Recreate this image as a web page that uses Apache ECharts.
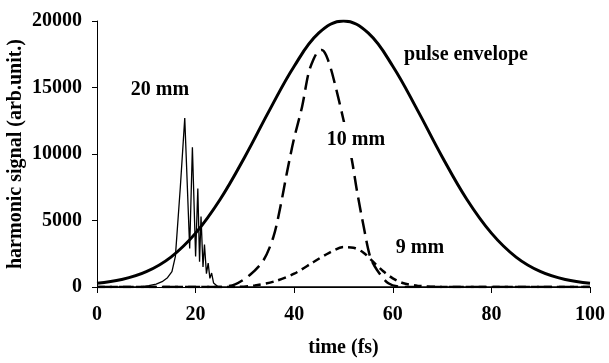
<!DOCTYPE html>
<html>
<head>
<meta charset="utf-8">
<script src="https://cdn.jsdelivr.net/npm/echarts@6/dist/echarts.min.js"></script>
<style>
html,body{margin:0;padding:0;background:#fff;}
#chart{width:609px;height:363px;}
</style>
</head>
<body>
<div id="chart"></div>
<script>
// time axis ticks
var xTicks = [0, 20, 40, 60, 80, 100];
var yTicks = [0, 5000, 10000, 15000, 20000];

// pulse envelope
var envT = [0, 5, 10, 15, 20, 25, 30, 35, 40, 45, 50, 55, 60, 65, 70, 75, 80, 85, 90, 95, 100];
var envV = [280, 560, 1150, 2250, 4050, 6600, 9800, 13300, 16600, 19100, 20000, 19100, 16600, 13300, 9800, 6600, 4050, 2250, 1150, 560, 280];

// 20 mm
var mm20T = [0, 9, 10.5, 12, 13.2, 14.3, 15.2, 15.9, 16.9, 17.8, 18.8, 19.35, 20.0, 20.45, 20.8, 21.1, 21.5, 21.8, 22.2, 22.55, 22.9, 23.25, 23.65, 24.0, 24.6, 26, 100];
var mm20V = [0, 0, 100, 220, 400, 700, 1150, 2300, 7500, 12700, 2900, 10500, 2300, 7400, 1900, 5300, 1500, 3200, 1000, 1800, 650, 1050, 300, 450, 0, 0, 0];

// 10 mm
var mm10T = [0, 25, 28, 31, 33.8, 35.8, 37.2, 38.5, 39.9, 41.6, 42.9, 43.9, 44.8, 45.6, 46.5, 47.7, 50.0, 51.7, 52.7, 54.1, 55.4, 56.8, 59.1, 62, 100];
var mm10V = [0, 0, 200, 900, 2030, 3780, 6040, 8550, 11050, 13560, 16070, 17100, 17700, 17820, 17400, 16070, 12560, 9550, 7290, 4530, 2280, 1280, 280, 0, 0];

// 9 mm
var mm9T = [0, 28, 32, 36, 40, 44, 47, 50, 52, 54, 56, 58, 60, 62, 65, 70, 100];
var mm9V = [0, 0, 120, 420, 1000, 1900, 2550, 3000, 2950, 2600, 1900, 1200, 650, 300, 100, 0, 0];

// annotation texts
var labels = ['20 mm', '10 mm', 'pulse envelope', '9 mm'];

function pairs(t, v) { return t.map(function (x, i) { return [x, v[i]]; }); }

var FONT = 'Liberation Serif';
var chart = echarts.init(document.getElementById('chart'), null, {renderer: 'canvas'});

function txt(s, x, y) {
  return {type: 'text', x: x, y: y, z: 110,
          style: {text: s, fontFamily: FONT, fontWeight: 'bold', fontSize: 20, fill: '#000', align: 'center', verticalAlign: 'middle'}};
}

chart.setOption({
  animation: false,
  backgroundColor: '#fff',
  grid: {left: 97, right: 19, top: 21, bottom: 76, containLabel: false, outerBoundsMode: 'none'},
  xAxis: {
    type: 'value', min: xTicks[0], max: xTicks[xTicks.length - 1], interval: 20,
    name: 'time (fs)', nameLocation: 'middle', nameGap: 51, nameMoveOverlap: false,
    nameTextStyle: {fontFamily: FONT, fontWeight: 'bold', fontSize: 20, color: '#000'},
    axisLine: {lineStyle: {color: '#000', width: 1}},
    axisTick: {inside: false, length: 6, lineStyle: {color: '#000'}},
    axisLabel: {margin: 18, fontFamily: FONT, fontWeight: 'bold', fontSize: 20, color: '#000',
                formatter: function (v) { return String(v); }},
    splitLine: {show: false}
  },
  yAxis: {
    type: 'value', min: yTicks[0], max: yTicks[yTicks.length - 1], interval: 5000,
    name: 'harmonic signal (arb.unit.)', nameLocation: 'middle', nameGap: 71, nameMoveOverlap: false,
    nameTextStyle: {fontFamily: FONT, fontWeight: 'bold', fontSize: 20, color: '#000'},
    axisLine: {show: true, lineStyle: {color: '#000', width: 1}},
    axisTick: {show: true, inside: false, length: 5, lineStyle: {color: '#000'}},
    axisLabel: {margin: 15, fontFamily: FONT, fontWeight: 'bold', fontSize: 20, color: '#000',
                formatter: function (v) { return String(v); }},
    splitLine: {show: false}
  },
  series: [
    {type: 'line', data: pairs(mm9T, mm9V), showSymbol: false, smooth: 0.3,
     lineStyle: {color: '#000', width: 2.5, type: [8, 5]}},
    {type: 'line', data: pairs(mm10T, mm10V), showSymbol: false, smooth: 0.3,
     lineStyle: {color: '#000', width: 2.5, type: [15, 7]}},
    {type: 'line', data: pairs(mm20T, mm20V), showSymbol: false, smooth: false,
     lineStyle: {color: '#000', width: 1.3}},
    {type: 'line', data: pairs(envT, envV), showSymbol: false, smooth: 0.4,
     lineStyle: {color: '#000', width: 3}}
  ],
  graphic: [
    {type: 'rect', z: 100, shape: {x: 326, y: 122, width: 60, height: 36}, style: {fill: '#fff'}},
    txt(labels[0], 160, 90),
    txt(labels[1], 356, 140),
    txt(labels[2], 466, 55),
    txt(labels[3], 420, 248)
  ]
});
</script>
</body>
</html>
